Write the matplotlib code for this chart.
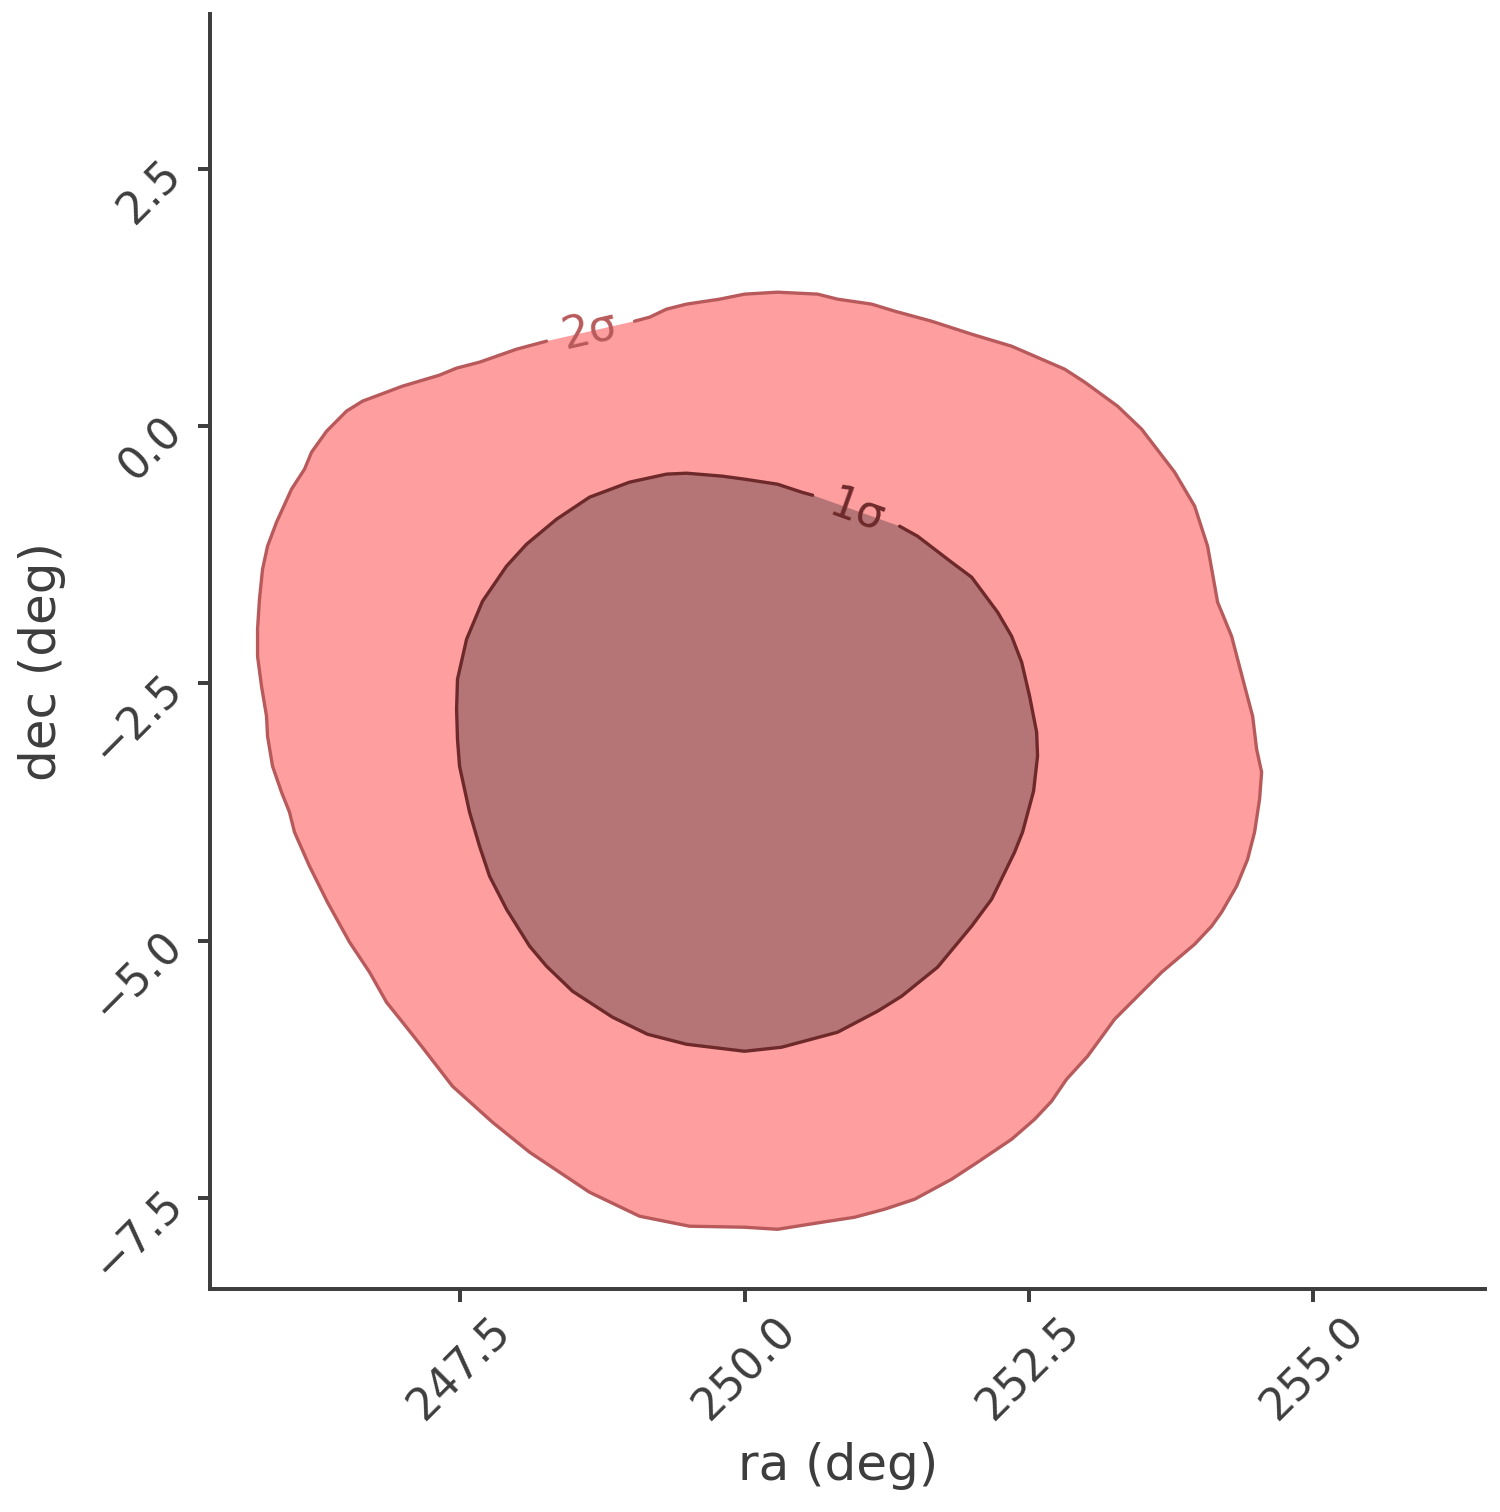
import numpy as np
import matplotlib
matplotlib.use("Agg")
import matplotlib.pyplot as plt
import seaborn as sns

sns.set_theme(style="ticks", context="notebook", font_scale=2)
plt.rcParams['font.family'] = ['DejaVu Sans']
ink = '#3d3d3d'
plt.rcParams.update({'text.color': ink, 'axes.labelcolor': ink, 'axes.edgecolor': ink,
                     'xtick.color': ink, 'ytick.color': ink,
                     'axes.linewidth': 1.9, 'xtick.major.width': 1.9, 'ytick.major.width': 1.9,
                     'xtick.major.size': 6, 'ytick.major.size': 6,
                     'xtick.labelsize': 21, 'ytick.labelsize': 21})

# 2 sigma contour (deg); starts/ends at the label gap
outer_ra = [249.033, 249.165, 249.314, 249.490, 249.780, 250.000, 250.290, 250.642, 250.818,
            251.117, 251.319, 251.644, 251.996, 252.348, 252.814, 252.990, 253.280, 253.491,
            253.781, 253.957, 254.071, 254.159, 254.282, 254.397, 254.467, 254.502, 254.546,
            254.528, 254.484, 254.423, 254.326, 254.194, 254.106, 253.957, 253.667, 253.491,
            253.253, 253.016, 252.831, 252.699, 252.550, 252.348, 252.049, 251.820, 251.495,
            251.231, 250.967, 250.677, 250.290, 250.000, 249.516, 249.077, 248.637, 248.110,
            247.784, 247.432, 247.160, 246.993, 246.852, 246.703, 246.527, 246.333, 246.175,
            246.043, 245.999, 245.929, 245.850, 245.806, 245.797, 245.753, 245.718, 245.718,
            245.735, 245.762, 245.806, 245.885, 246.017, 246.131, 246.193, 246.325, 246.500,
            246.641, 246.993, 247.318, 247.468, 247.670, 247.995, 248.259]
outer_dec = [1.020, 1.059, 1.137, 1.186, 1.234, 1.283, 1.302, 1.283, 1.234,
             1.186, 1.118, 1.020, 0.894, 0.777, 0.554, 0.428, 0.194, -0.029,
             -0.447, -0.777, -1.166, -1.710, -2.041, -2.527, -2.818, -3.139, -3.362,
             -3.625, -3.945, -4.208, -4.470, -4.723, -4.859, -5.034, -5.306, -5.500,
             -5.763, -6.122, -6.346, -6.560, -6.735, -6.929, -7.152, -7.318, -7.512,
             -7.609, -7.687, -7.736, -7.804, -7.784, -7.774, -7.677, -7.444, -7.055,
             -6.764, -6.414, -6.025, -5.792, -5.598, -5.306, -5.014, -4.626, -4.276,
             -3.945, -3.751, -3.557, -3.304, -3.013, -2.818, -2.527, -2.235, -1.973,
             -1.681, -1.390, -1.166, -0.933, -0.612, -0.418, -0.253, -0.049, 0.146,
             0.243, 0.389, 0.496, 0.564, 0.622, 0.748, 0.826]

# 1 sigma contour
inner_ra = [251.363, 251.521, 251.820, 251.996, 252.225, 252.348, 252.436, 252.506, 252.568,
            252.576, 252.541, 252.444, 252.374, 252.172, 251.996, 251.697, 251.381, 251.169,
            250.818, 250.325, 250.000, 249.490, 249.147, 248.839, 248.663, 248.488, 248.259,
            248.110, 247.907, 247.758, 247.670, 247.582, 247.494, 247.476, 247.468, 247.476,
            247.556, 247.696, 247.907, 248.083, 248.347, 248.637, 248.989, 249.314, 249.490,
            249.807, 250.000, 250.290, 250.501, 250.598]
inner_dec = [-0.972, -1.069, -1.322, -1.467, -1.808, -2.041, -2.293, -2.624, -2.974,
             -3.207, -3.547, -3.945, -4.140, -4.597, -4.859, -5.257, -5.539, -5.685,
             -5.889, -6.035, -6.074, -6.006, -5.909, -5.743, -5.617, -5.491, -5.248,
             -5.053, -4.694, -4.373, -4.082, -3.751, -3.304, -3.042, -2.750, -2.459,
             -2.070, -1.701, -1.360, -1.147, -0.904, -0.690, -0.544, -0.466, -0.457,
             -0.486, -0.515, -0.564, -0.641, -0.671]

labels = ['2σ', '1σ']
label_ra = [248.637, 250.985]
label_dec = [0.923, -0.826]
label_rot = [12.8, -19.6]

fig = plt.figure(figsize=(10, 10.08), dpi=150)
ax = fig.add_axes([0.14, 0.1475, 0.85, 0.8433])

ax.fill(outer_ra, outer_dec, color='#ff9e9f', lw=0, zorder=1)
ax.plot(outer_ra, outer_dec, color='#b85a5b', lw=1.6, zorder=3)
ax.fill(inner_ra, inner_dec, color='#b57475', lw=0, zorder=2)
ax.plot(inner_ra, inner_dec, color='#6e2a2b', lw=1.6, zorder=3)

cols = ['#b85a5b', '#6e2a2b']
for i in range(2):
    ax.text(label_ra[i], label_dec[i], labels[i], color=cols[i], fontsize=21,
            rotation=label_rot[i], ha='center', va='center', zorder=4)

ax.set_xlim(245.30, 256.51)
ax.set_ylim(-8.384, 4.006)
ax.set_xticks([247.5, 250.0, 252.5, 255.0])
ax.set_yticks([-7.5, -5.0, -2.5, 0.0, 2.5])
ax.tick_params(axis='both', labelrotation=45)
ax.set_xlabel('ra (deg)', fontsize=24, labelpad=6.5)
ax.set_ylabel('dec (deg)', fontsize=24, labelpad=9)
ax.xaxis.label.set_x(0.4925)
ax.yaxis.label.set_y(0.492)
sns.despine(ax=ax)

fig.savefig('out.png', dpi=150)
